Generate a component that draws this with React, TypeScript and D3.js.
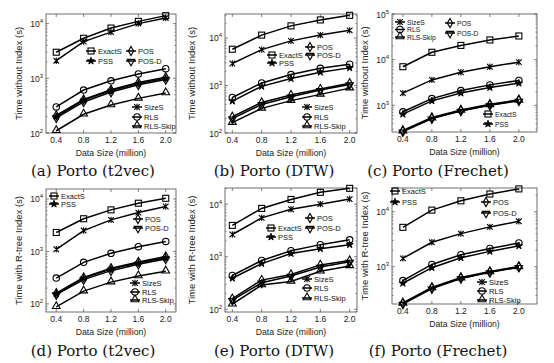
import React from "react";
import * as d3 from "d3";

// data size (million trajectories)
const xValues = [0.4, 0.8, 1.2, 1.6, 2.0];
const xTicks = [0.4, 0.8, 1.2, 1.6, 2.0];

const seriesOrder = ["ExactS", "SizeS", "RLS", "PSS", "POS", "POS-D", "RLS-Skip"];

// running time (s)
const t2vecNoIndex = {
  ExactS: [3000, 5400, 8300, 11000, 14000],
  SizeS: [2100, 4700, 7000, 10000, 12700],
  RLS: [300, 610, 900, 1200, 1500],
  PSS: [200, 400, 600, 800, 1000],
  POS: [210, 410, 620, 840, 1050],
  "POS-D": [190, 370, 560, 760, 950],
  "RLS-Skip": [110, 220, 325, 430, 540],
};

const dtwNoIndex = {
  ExactS: [5800, 11500, 18000, 24000, 30000],
  SizeS: [2900, 5700, 8700, 11500, 14500],
  RLS: [560, 1130, 1700, 2300, 2800],
  PSS: [470, 960, 1400, 1900, 2350],
  POS: [220, 440, 630, 840, 1120],
  "POS-D": [200, 400, 580, 800, 1050],
  "RLS-Skip": [165, 330, 480, 650, 880],
};

const frechetNoIndex = {
  ExactS: [7000, 14500, 20500, 27000, 33000],
  SizeS: [1850, 3600, 5300, 7000, 8800],
  RLS: [720, 1400, 2100, 2800, 3500],
  PSS: [640, 1250, 1850, 2450, 3050],
  POS: [280, 540, 790, 1050, 1320],
  "POS-D": [265, 510, 750, 1000, 1250],
  "RLS-Skip": [270, 520, 770, 1020, 1280],
};

const t2vecRtree = {
  ExactS: [2300, 4200, 6200, 8300, 10300],
  SizeS: [1100, 2500, 4000, 5500, 7200],
  RLS: [310, 620, 920, 1230, 1550],
  PSS: [155, 310, 460, 600, 760],
  POS: [160, 320, 480, 630, 800],
  "POS-D": [150, 290, 430, 570, 720],
  "RLS-Skip": [88, 175, 260, 340, 420],
};

const dtwRtree = {
  ExactS: [3950, 8300, 12300, 16800, 20000],
  SizeS: [2650, 5500, 8000, 10000, 12500],
  RLS: [440, 850, 1300, 1700, 2100],
  PSS: [390, 740, 1150, 1420, 1700],
  POS: [160, 360, 460, 700, 850],
  "POS-D": [150, 320, 430, 640, 800],
  "RLS-Skip": [125, 290, 340, 530, 670],
};

const frechetRtree = {
  ExactS: [5200, 10700, 15800, 21000, 26000],
  SizeS: [1420, 2780, 4000, 5300, 6700],
  RLS: [560, 1100, 1650, 2150, 2700],
  PSS: [500, 960, 1450, 1900, 2400],
  POS: [220, 420, 640, 820, 1010],
  "POS-D": [210, 400, 610, 790, 980],
  "RLS-Skip": [215, 410, 620, 800, 990],
};

const markerKind = {
  ExactS: "square",
  SizeS: "asterisk",
  RLS: "circle",
  PSS: "hexagram",
  POS: "diamond",
  "POS-D": "triangleDown",
  "RLS-Skip": "triangle",
};

const noIdx = "Time without Index (s)";
const rIdx = "Time with R-tree Index (s)";

const panels = [
  {
    data: t2vecNoIndex, left: 46, right: 176, top: 14, bottom: 133,
    xDomain: [0.25, 2.15], yDomain: [100, 15000], ylabel: noIdx, ylabelX: 22,
    caption: "(a) Porto (t2vec)", captionX: 93, captionY: 176, legendSize: 7.5,
    legend: [["ExactS", 86, 51], ["POS", 126, 51], ["PSS", 86, 61], ["POS-D", 126, 61],
      ["SizeS", 132, 107], ["RLS", 132, 117], ["RLS-Skip", 132, 126]],
  },
  {
    data: dtwNoIndex, left: 225, right: 357, top: 14, bottom: 133,
    xDomain: [0.3, 2.1], yDomain: [100, 32000], ylabel: noIdx, ylabelX: 195,
    caption: "(b) Porto (DTW)", captionX: 274, captionY: 176, legendSize: 7.5,
    legend: [["POS", 305, 47], ["ExactS", 267, 55], ["POS-D", 305, 55], ["PSS", 267, 63],
      ["SizeS", 302, 107], ["RLS", 302, 117], ["RLS-Skip", 302, 126]],
  },
  {
    data: frechetNoIndex, left: 392, right: 537, top: 14, bottom: 132,
    xDomain: [0.25, 2.25], yDomain: [260, 100000], ylabel: noIdx, ylabelX: 368,
    caption: "(c) Porto (Frechet)", captionX: 438, captionY: 176, legendSize: 6.8,
    legend: [["SizeS", 395, 22], ["RLS", 395, 29.5], ["RLS-Skip", 395, 37], ["POS", 445, 23],
      ["POS-D", 445, 33], ["ExactS", 483, 114], ["PSS", 483, 124]],
  },
  {
    data: t2vecRtree, left: 46, right: 176, top: 189, bottom: 312,
    xDomain: [0.25, 2.15], yDomain: [70, 15500], ylabel: rIdx, ylabelX: 22,
    caption: "(d) Porto (t2vec)", captionX: 93, captionY: 356, legendSize: 7.5,
    legend: [["ExactS", 49, 196], ["PSS", 49, 204], ["POS", 133, 219], ["POS-D", 133, 228],
      ["SizeS", 130, 283], ["RLS", 130, 292], ["RLS-Skip", 130, 300]],
  },
  {
    data: dtwRtree, left: 225, right: 357, top: 188, bottom: 312,
    xDomain: [0.3, 2.1], yDomain: [89, 20300], ylabel: rIdx, ylabelX: 195,
    caption: "(e) Porto (DTW)", captionX: 274, captionY: 356, legendSize: 7.5,
    legend: [["POS", 305, 218], ["ExactS", 266, 228], ["POS-D", 305, 228], ["PSS", 266, 237],
      ["SizeS", 302, 279], ["RLS", 302, 288], ["RLS-Skip", 302, 298]],
  },
  {
    data: frechetRtree, left: 392, right: 537, top: 188, bottom: 304,
    xDomain: [0.25, 2.25], yDomain: [210, 27000], ylabel: rIdx, ylabelX: 368,
    caption: "(f) Porto (Frechet)", captionX: 438, captionY: 356, legendSize: 7.5,
    legend: [["ExactS", 390, 191], ["PSS", 390, 202], ["POS", 481, 202], ["POS-D", 481, 213],
      ["SizeS", 477, 282], ["RLS", 477, 291], ["RLS-Skip", 477, 300]],
  },
];

const sans = "'Liberation Sans', Arial, sans-serif";
const serif = "'DejaVu Serif', serif";

const Marker = ({ kind, x, y }) => {
  const common = { stroke: "#000", strokeWidth: 1.1, fill: "none" };
  if (kind === "square") return <rect x={x - 3} y={y - 3} width={6} height={6} {...common} />;
  if (kind === "circle") return <circle cx={x} cy={y} r={3.2} {...common} />;
  if (kind === "asterisk")
    return (
      <path
        d={`M${x - 2.8},${y - 2.8}L${x + 2.8},${y + 2.8}M${x - 2.8},${y + 2.8}L${x + 2.8},${y - 2.8}M${x},${y - 3.2}L${x},${y + 3.2}`}
        {...common}
      />
    );
  if (kind === "hexagram")
    return <path d={d3.symbol(d3.symbolStar, 16)()} transform={`translate(${x},${y})`} fill="#000" stroke="#000" strokeWidth={0.9} />;
  if (kind === "diamond")
    return <path d={d3.symbol(d3.symbolDiamond, 24)()} transform={`translate(${x},${y})`} {...common} />;
  if (kind === "triangleDown")
    return <path d={d3.symbol(d3.symbolTriangle, 24)()} transform={`translate(${x},${y + 0.5}) rotate(180)`} {...common} />;
  return <path d={d3.symbol(d3.symbolTriangle, 26)()} transform={`translate(${x},${y - 0.5})`} {...common} />;
};

const Panel = ({ p }) => {
  const x = d3.scaleLinear().domain(p.xDomain).range([p.left, p.right]);
  const y = d3.scaleLog().domain(p.yDomain).range([p.bottom, p.top]);
  const line = d3
    .line()
    .x((d) => x(d[0]))
    .y((d) => y(d[1]));

  const [lo, hi] = p.yDomain;
  const decades = d3.range(Math.ceil(Math.log10(lo)), Math.floor(Math.log10(hi)) + 1);
  const minors = [];
  d3.range(Math.floor(Math.log10(lo)), Math.ceil(Math.log10(hi))).forEach((e) => {
    for (let k = 2; k < 10; k++) {
      const v = k * Math.pow(10, e);
      if (v > lo && v < hi) minors.push(v);
    }
  });

  const midY = (p.top + p.bottom) / 2;
  const tk = 3;

  return (
    <g>
      <rect x={p.left} y={p.top} width={p.right - p.left} height={p.bottom - p.top} fill="#fff" stroke="#333" strokeWidth={0.7} />
      {xTicks.map((t) => (
        <g key={t}>
          <line x1={x(t)} x2={x(t)} y1={p.bottom} y2={p.bottom - tk} stroke="#333" strokeWidth={0.6} />
          <line x1={x(t)} x2={x(t)} y1={p.top} y2={p.top + tk} stroke="#333" strokeWidth={0.6} />
          <text x={x(t)} y={p.bottom + 10} textAnchor="middle" fontSize={8.5} fontFamily={sans} fill="#222">
            {d3.format(".1f")(t)}
          </text>
        </g>
      ))}
      {decades.map((e) => (
        <g key={e}>
          <line x1={p.left} x2={p.left + tk} y1={y(Math.pow(10, e))} y2={y(Math.pow(10, e))} stroke="#333" strokeWidth={0.6} />
          <line x1={p.right} x2={p.right - tk} y1={y(Math.pow(10, e))} y2={y(Math.pow(10, e))} stroke="#333" strokeWidth={0.6} />
          <text x={p.left - 3} y={y(Math.pow(10, e)) + 3.5} textAnchor="end" fontSize={8.5} fontFamily={sans} fill="#222">
            10<tspan dy={-4} fontSize={6}>{e}</tspan>
          </text>
        </g>
      ))}
      {minors.map((v) => (
        <g key={v}>
          <line x1={p.left} x2={p.left + 1.6} y1={y(v)} y2={y(v)} stroke="#333" strokeWidth={0.5} />
          <line x1={p.right} x2={p.right - 1.6} y1={y(v)} y2={y(v)} stroke="#333" strokeWidth={0.5} />
        </g>
      ))}
      <text
        transform={`translate(${p.ylabelX},${midY}) rotate(-90)`}
        textAnchor="middle"
        fontSize={9.5}
        fontFamily={sans}
        fill="#222"
      >
        {p.ylabel}
      </text>
      <text x={(p.left + p.right) / 2} y={p.bottom + 23} textAnchor="middle" fontSize={8.7} fontFamily={sans} fill="#222">
        Data Size (million)
      </text>
      {seriesOrder.map((name) => {
        const pts = xValues.map((v, i) => [v, p.data[name][i]]);
        return (
          <g key={name}>
            <path d={line(pts)} fill="none" stroke="#000" strokeWidth={1.5} />
            {pts.map((d, i) => (
              <Marker key={i} kind={markerKind[name]} x={x(d[0])} y={y(d[1])} />
            ))}
          </g>
        );
      })}
      {p.legend.map(([name, lx, ly]) => (
        <g key={name}>
          <line x1={lx} x2={lx + 10} y1={ly} y2={ly} stroke="#000" strokeWidth={1.5} />
          <Marker kind={markerKind[name]} x={lx + 5} y={ly} />
          <text x={lx + 12} y={ly + 2.6} fontSize={p.legendSize} fontFamily={sans} fill="#111">
            {name}
          </text>
        </g>
      ))}
      <text x={p.captionX} y={p.captionY} textAnchor="middle" fontSize={15} fontFamily={serif} fill="#111">
        {p.caption}
      </text>
    </g>
  );
};

export default function App() {
  return (
    <svg
      width={554}
      height={363}
      style={{ position: "absolute", left: 0, top: 0, background: "#fff" }}
    >
      {panels.map((p, i) => (
        <Panel key={i} p={p} />
      ))}
    </svg>
  );
}
